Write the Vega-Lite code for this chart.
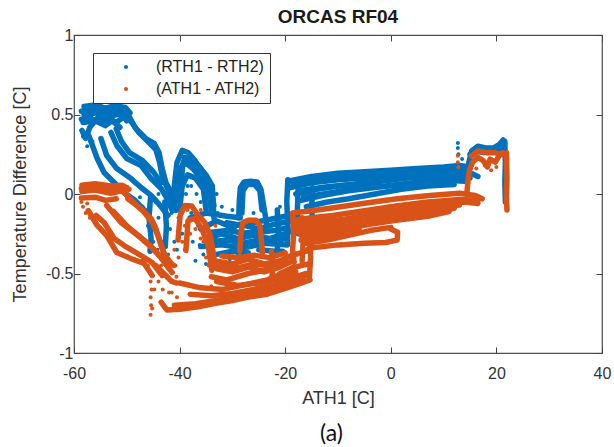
{
"$schema":"https://vega.github.io/schema/vega-lite/v6.json",
"width":528,"height":318,
"autosize":{"type":"none"},
"padding":{"left":74,"top":35,"right":12,"bottom":94},
"background":"white",
"title":{"text":"ORCAS RF04","font":"Liberation Sans","fontSize":19,"fontWeight":"bold","color":"#1a1a1a","offset":0,"anchor":"middle"},
"datasets":{
"tr":[
{"s":"R","t":"B1a","i":0,"x":-58.1,"y":0.55},{"s":"R","t":"B1a","i":1,"x":-56,"y":0.56},{"s":"R","t":"B1a","i":2,"x":-54.1,"y":0.54},{"s":"R","t":"B1a","i":3,"x":-52.2,"y":0.555},{"s":"R","t":"B1a","i":4,"x":-50.3,"y":0.545},{"s":"R","t":"B1a","i":5,"x":-49.4,"y":0.51},
{"s":"R","t":"B1b","i":0,"x":-58.1,"y":0.5},{"s":"R","t":"B1b","i":1,"x":-56,"y":0.51},{"s":"R","t":"B1b","i":2,"x":-53.2,"y":0.49},{"s":"R","t":"B1b","i":3,"x":-51,"y":0.505},{"s":"R","t":"B1b","i":4,"x":-50,"y":0.46},
{"s":"R","t":"B1c","i":0,"x":-58.3,"y":0.45},{"s":"R","t":"B1c","i":1,"x":-56,"y":0.46},{"s":"R","t":"B1c","i":2,"x":-54.1,"y":0.43},{"s":"R","t":"B1c","i":3,"x":-52.8,"y":0.46},{"s":"R","t":"B1c","i":4,"x":-51.3,"y":0.42},
{"s":"R","t":"B1d","i":0,"x":-58.5,"y":0.4},{"s":"R","t":"B1d","i":1,"x":-57.8,"y":0.35},{"s":"R","t":"B1d","i":2,"x":-57,"y":0.42},{"s":"R","t":"B1d","i":3,"x":-55.5,"y":0.48},{"s":"R","t":"B1d","i":4,"x":-54,"y":0.47},
{"s":"R","t":"B1e","i":0,"x":-58.6,"y":0.52},{"s":"R","t":"B1e","i":1,"x":-57,"y":0.53},{"s":"R","t":"B1e","i":2,"x":-55,"y":0.52},{"s":"R","t":"B1e","i":3,"x":-53,"y":0.52},{"s":"R","t":"B1e","i":4,"x":-51,"y":0.525},
{"s":"R","t":"B1f","i":0,"x":-58.6,"y":0.47},{"s":"R","t":"B1f","i":1,"x":-57,"y":0.48},{"s":"R","t":"B1f","i":2,"x":-55,"y":0.45},{"s":"R","t":"B1f","i":3,"x":-53.5,"y":0.48},{"s":"R","t":"B1f","i":4,"x":-52,"y":0.45},{"s":"R","t":"B1f","i":5,"x":-50.8,"y":0.48},
{"s":"R","t":"B2","i":0,"x":-50,"y":0.513},{"s":"R","t":"B2","i":1,"x":-48.3,"y":0.412},{"s":"R","t":"B2","i":2,"x":-46.4,"y":0.349},{"s":"R","t":"B2","i":3,"x":-44.8,"y":0.318},{"s":"R","t":"B2","i":4,"x":-43.9,"y":0.261},{"s":"R","t":"B2","i":5,"x":-43.3,"y":0.16},{"s":"R","t":"B2","i":6,"x":-42.6,"y":0.072},{"s":"R","t":"B2","i":7,"x":-41.6,"y":0.009},{"s":"R","t":"B2","i":8,"x":-41.1,"y":-0.028},{"s":"R","t":"B2","i":9,"x":-40.7,"y":-0.104},
{"s":"R","t":"B2b","i":0,"x":-49.5,"y":0.47},{"s":"R","t":"B2b","i":1,"x":-47.8,"y":0.39},{"s":"R","t":"B2b","i":2,"x":-46,"y":0.33},{"s":"R","t":"B2b","i":3,"x":-44.5,"y":0.28},{"s":"R","t":"B2b","i":4,"x":-43.8,"y":0.2},{"s":"R","t":"B2b","i":5,"x":-43.2,"y":0.1},{"s":"R","t":"B2b","i":6,"x":-42.2,"y":0.03},{"s":"R","t":"B2b","i":7,"x":-41.6,"y":-0.06},
{"s":"R","t":"B3","i":0,"x":-53,"y":0.387},{"s":"R","t":"B3","i":1,"x":-51.9,"y":0.305},{"s":"R","t":"B3","i":2,"x":-50,"y":0.223},{"s":"R","t":"B3","i":3,"x":-47.3,"y":0.179},{"s":"R","t":"B3","i":4,"x":-45.4,"y":0.097},{"s":"R","t":"B3","i":5,"x":-43.5,"y":0.035},{"s":"R","t":"B3","i":6,"x":-42.4,"y":-0.028},{"s":"R","t":"B3","i":7,"x":-41.4,"y":-0.104},
{"s":"R","t":"B3b","i":0,"x":-52,"y":0.41},{"s":"R","t":"B3b","i":1,"x":-51,"y":0.33},{"s":"R","t":"B3b","i":2,"x":-49.5,"y":0.26},{"s":"R","t":"B3b","i":3,"x":-47,"y":0.21},{"s":"R","t":"B3b","i":4,"x":-45,"y":0.14},{"s":"R","t":"B3b","i":5,"x":-43.5,"y":0.07},
{"s":"R","t":"B4","i":0,"x":-54.9,"y":0.349},{"s":"R","t":"B4","i":1,"x":-53.8,"y":0.242},{"s":"R","t":"B4","i":2,"x":-51.9,"y":0.16},{"s":"R","t":"B4","i":3,"x":-49.2,"y":0.097},{"s":"R","t":"B4","i":4,"x":-47.3,"y":0.041},{"s":"R","t":"B4","i":5,"x":-45.4,"y":-0.009},{"s":"R","t":"B4","i":6,"x":-43.7,"y":-0.072},{"s":"R","t":"B4","i":7,"x":-42.2,"y":-0.135},
{"s":"R","t":"B5","i":0,"x":-57.2,"y":0.368},{"s":"R","t":"B5","i":1,"x":-55.6,"y":0.223},{"s":"R","t":"B5","i":2,"x":-54.3,"y":0.135},{"s":"R","t":"B5","i":3,"x":-52.4,"y":0.072},{"s":"R","t":"B5","i":4,"x":-50.5,"y":0.009},{"s":"R","t":"B5","i":5,"x":-48.4,"y":-0.041},{"s":"R","t":"B5","i":6,"x":-46.6,"y":-0.104},
{"s":"R","t":"B6","i":0,"x":-45.5,"y":-0.02},{"s":"R","t":"B6","i":1,"x":-45.8,"y":-0.15},{"s":"R","t":"B6","i":2,"x":-45.4,"y":-0.28},{"s":"R","t":"B6","i":3,"x":-45.6,"y":-0.36},
{"s":"R","t":"B7","i":0,"x":-42.8,"y":-0.05},{"s":"R","t":"B7","i":1,"x":-42.5,"y":-0.2},{"s":"R","t":"B7","i":2,"x":-42.7,"y":-0.33},
{"s":"R","t":"B8a","i":0,"x":-41.1,"y":0.022},{"s":"R","t":"B8a","i":1,"x":-40.5,"y":0.198},{"s":"R","t":"B8a","i":2,"x":-39.5,"y":0.274},{"s":"R","t":"B8a","i":3,"x":-38.4,"y":0.261},{"s":"R","t":"B8a","i":4,"x":-37.1,"y":0.211},{"s":"R","t":"B8a","i":5,"x":-35.8,"y":0.148},{"s":"R","t":"B8a","i":6,"x":-34.8,"y":0.085},{"s":"R","t":"B8a","i":7,"x":-33.9,"y":0.009},{"s":"R","t":"B8a","i":8,"x":-33.5,"y":-0.072},
{"s":"R","t":"B8b","i":0,"x":-39.9,"y":-0.009},{"s":"R","t":"B8b","i":1,"x":-39.4,"y":0.179},{"s":"R","t":"B8b","i":2,"x":-38.2,"y":0.211},{"s":"R","t":"B8b","i":3,"x":-36.9,"y":0.148},{"s":"R","t":"B8b","i":4,"x":-35.4,"y":0.072},{"s":"R","t":"B8b","i":5,"x":-34.4,"y":-0.009},
{"s":"R","t":"B8c","i":0,"x":-40.2,"y":0.1},{"s":"R","t":"B8c","i":1,"x":-39,"y":0.23},{"s":"R","t":"B8c","i":2,"x":-38,"y":0.22},{"s":"R","t":"B8c","i":3,"x":-36.5,"y":0.18},{"s":"R","t":"B8c","i":4,"x":-35,"y":0.12},{"s":"R","t":"B8c","i":5,"x":-33.8,"y":0.05},{"s":"R","t":"B8c","i":6,"x":-33.5,"y":-0.15},
{"s":"R","t":"B8d","i":0,"x":-40.8,"y":-0.05},{"s":"R","t":"B8d","i":1,"x":-40,"y":0.15},{"s":"R","t":"B8d","i":2,"x":-39,"y":0.2},{"s":"R","t":"B8d","i":3,"x":-37.5,"y":0.16},{"s":"R","t":"B8d","i":4,"x":-36,"y":0.1},{"s":"R","t":"B8d","i":5,"x":-34.6,"y":0.03},{"s":"R","t":"B8d","i":6,"x":-34,"y":-0.1},
{"s":"R","t":"B8e","i":0,"x":-40,"y":-0.1},{"s":"R","t":"B8e","i":1,"x":-39.5,"y":0.05},{"s":"R","t":"B8e","i":2,"x":-38.5,"y":0.12},{"s":"R","t":"B8e","i":3,"x":-37,"y":0.1},{"s":"R","t":"B8e","i":4,"x":-35.5,"y":0.03},{"s":"R","t":"B8e","i":5,"x":-35,"y":-0.1},
{"s":"R","t":"B9a","i":0,"x":-36,"y":-0.22},{"s":"R","t":"B9a","i":1,"x":-33,"y":-0.17},{"s":"R","t":"B9a","i":2,"x":-30,"y":-0.21},{"s":"R","t":"B9a","i":3,"x":-28.6,"y":-0.19},{"s":"R","t":"B9a","i":4,"x":-25,"y":-0.22},{"s":"R","t":"B9a","i":5,"x":-22,"y":-0.19},{"s":"R","t":"B9a","i":6,"x":-19,"y":-0.17},
{"s":"R","t":"B9b","i":0,"x":-35,"y":-0.28},{"s":"R","t":"B9b","i":1,"x":-32,"y":-0.25},{"s":"R","t":"B9b","i":2,"x":-29,"y":-0.28},{"s":"R","t":"B9b","i":3,"x":-26,"y":-0.26},{"s":"R","t":"B9b","i":4,"x":-23,"y":-0.28},{"s":"R","t":"B9b","i":5,"x":-20,"y":-0.25},{"s":"R","t":"B9b","i":6,"x":-18,"y":-0.22},
{"s":"R","t":"B9c","i":0,"x":-36,"y":-0.33},{"s":"R","t":"B9c","i":1,"x":-32,"y":-0.32},{"s":"R","t":"B9c","i":2,"x":-28,"y":-0.34},{"s":"R","t":"B9c","i":3,"x":-24,"y":-0.31},{"s":"R","t":"B9c","i":4,"x":-20,"y":-0.32},
{"s":"R","t":"B9d","i":0,"x":-38,"y":-0.15},{"s":"R","t":"B9d","i":1,"x":-35,"y":-0.12},{"s":"R","t":"B9d","i":2,"x":-31,"y":-0.14},{"s":"R","t":"B9d","i":3,"x":-28.5,"y":-0.15},
{"s":"R","t":"B9e","i":0,"x":-33,"y":-0.38},{"s":"R","t":"B9e","i":1,"x":-30,"y":-0.36},{"s":"R","t":"B9e","i":2,"x":-27,"y":-0.37},
{"s":"R","t":"B9f","i":0,"x":-34,"y":-0.24},{"s":"R","t":"B9f","i":1,"x":-31,"y":-0.23},{"s":"R","t":"B9f","i":2,"x":-28,"y":-0.245},{"s":"R","t":"B9f","i":3,"x":-25,"y":-0.24},{"s":"R","t":"B9f","i":4,"x":-22,"y":-0.23},{"s":"R","t":"B9f","i":5,"x":-19.5,"y":-0.21},
{"s":"R","t":"B9g","i":0,"x":-34,"y":-0.3},{"s":"R","t":"B9g","i":1,"x":-31,"y":-0.29},{"s":"R","t":"B9g","i":2,"x":-28,"y":-0.31},{"s":"R","t":"B9g","i":3,"x":-25,"y":-0.29},{"s":"R","t":"B9g","i":4,"x":-22,"y":-0.3},{"s":"R","t":"B9g","i":5,"x":-20,"y":-0.28},
{"s":"R","t":"B9h","i":0,"x":-31,"y":-0.18},{"s":"R","t":"B9h","i":1,"x":-28,"y":-0.2},{"s":"R","t":"B9h","i":2,"x":-26,"y":-0.18},{"s":"R","t":"B9h","i":3,"x":-23,"y":-0.16},{"s":"R","t":"B9h","i":4,"x":-20,"y":-0.14},
{"s":"R","t":"B9i","i":0,"x":-25,"y":-0.35},{"s":"R","t":"B9i","i":1,"x":-22,"y":-0.36},{"s":"R","t":"B9i","i":2,"x":-20.5,"y":-0.36},
{"s":"R","t":"B10","i":0,"x":-28.8,"y":-0.15},{"s":"R","t":"B10","i":1,"x":-28.7,"y":-0.05},{"s":"R","t":"B10","i":2,"x":-28.5,"y":0.04},{"s":"R","t":"B10","i":3,"x":-27.8,"y":0.075},{"s":"R","t":"B10","i":4,"x":-26.5,"y":0.08},{"s":"R","t":"B10","i":5,"x":-25.3,"y":0.075},{"s":"R","t":"B10","i":6,"x":-24.6,"y":0.03},{"s":"R","t":"B10","i":7,"x":-24.2,"y":-0.05},{"s":"R","t":"B10","i":8,"x":-23.8,"y":-0.13},{"s":"R","t":"B10","i":9,"x":-23.5,"y":-0.2},
{"s":"R","t":"B10b","i":0,"x":-28.2,"y":-0.12},{"s":"R","t":"B10b","i":1,"x":-28,"y":0.02},{"s":"R","t":"B10b","i":2,"x":-27.2,"y":0.06},{"s":"R","t":"B10b","i":3,"x":-25.8,"y":0.06},{"s":"R","t":"B10b","i":4,"x":-24.8,"y":0.02},{"s":"R","t":"B10b","i":5,"x":-24.4,"y":-0.1},
{"s":"R","t":"B11a","i":0,"x":-19.5,"y":0.08},{"s":"R","t":"B11a","i":1,"x":-15,"y":0.11},{"s":"R","t":"B11a","i":2,"x":-10,"y":0.13},{"s":"R","t":"B11a","i":3,"x":-5,"y":0.14},{"s":"R","t":"B11a","i":4,"x":0,"y":0.15},{"s":"R","t":"B11a","i":5,"x":5,"y":0.16},{"s":"R","t":"B11a","i":6,"x":10,"y":0.17},{"s":"R","t":"B11a","i":7,"x":13,"y":0.18},{"s":"R","t":"B11a","i":8,"x":15,"y":0.17},
{"s":"R","t":"B11b","i":0,"x":-19,"y":0.04},{"s":"R","t":"B11b","i":1,"x":-15,"y":0.07},{"s":"R","t":"B11b","i":2,"x":-10,"y":0.09},{"s":"R","t":"B11b","i":3,"x":-5,"y":0.1},{"s":"R","t":"B11b","i":4,"x":0,"y":0.12},{"s":"R","t":"B11b","i":5,"x":5,"y":0.13},{"s":"R","t":"B11b","i":6,"x":10,"y":0.15},{"s":"R","t":"B11b","i":7,"x":14,"y":0.15},{"s":"R","t":"B11b","i":8,"x":16.5,"y":0.11},
{"s":"R","t":"B11c","i":0,"x":-18,"y":0},{"s":"R","t":"B11c","i":1,"x":-14,"y":0.03},{"s":"R","t":"B11c","i":2,"x":-10,"y":0.05},{"s":"R","t":"B11c","i":3,"x":-5,"y":0.07},{"s":"R","t":"B11c","i":4,"x":0,"y":0.09},{"s":"R","t":"B11c","i":5,"x":5,"y":0.11},{"s":"R","t":"B11c","i":6,"x":10,"y":0.12},{"s":"R","t":"B11c","i":7,"x":14,"y":0.13},
{"s":"R","t":"B11d","i":0,"x":-17,"y":-0.04},{"s":"R","t":"B11d","i":1,"x":-13,"y":-0.01},{"s":"R","t":"B11d","i":2,"x":-8,"y":0.02},{"s":"R","t":"B11d","i":3,"x":-3,"y":0.04},{"s":"R","t":"B11d","i":4,"x":2,"y":0.06},{"s":"R","t":"B11d","i":5,"x":7,"y":0.08},{"s":"R","t":"B11d","i":6,"x":12,"y":0.09},{"s":"R","t":"B11d","i":7,"x":15,"y":0.1},
{"s":"R","t":"B11e","i":0,"x":-16,"y":-0.08},{"s":"R","t":"B11e","i":1,"x":-12,"y":-0.05},{"s":"R","t":"B11e","i":2,"x":-8,"y":-0.03},{"s":"R","t":"B11e","i":3,"x":-3,"y":0},{"s":"R","t":"B11e","i":4,"x":2,"y":0.03},{"s":"R","t":"B11e","i":5,"x":7,"y":0.05},{"s":"R","t":"B11e","i":6,"x":12,"y":0.06},
{"s":"R","t":"B11f","i":0,"x":-18.5,"y":0.06},{"s":"R","t":"B11f","i":1,"x":-13,"y":0.09},{"s":"R","t":"B11f","i":2,"x":-7,"y":0.115},{"s":"R","t":"B11f","i":3,"x":-2,"y":0.13},{"s":"R","t":"B11f","i":4,"x":3,"y":0.14},{"s":"R","t":"B11f","i":5,"x":8,"y":0.16},{"s":"R","t":"B11f","i":6,"x":12,"y":0.165},
{"s":"R","t":"B11g","i":0,"x":-17.5,"y":0.02},{"s":"R","t":"B11g","i":1,"x":-12,"y":0.045},{"s":"R","t":"B11g","i":2,"x":-7,"y":0.06},{"s":"R","t":"B11g","i":3,"x":-2,"y":0.08},{"s":"R","t":"B11g","i":4,"x":3,"y":0.1},{"s":"R","t":"B11g","i":5,"x":8,"y":0.11},{"s":"R","t":"B11g","i":6,"x":13,"y":0.11},
{"s":"R","t":"B11h","i":0,"x":-16.5,"y":-0.02},{"s":"R","t":"B11h","i":1,"x":-11,"y":0.01},{"s":"R","t":"B11h","i":2,"x":-6,"y":0.04},{"s":"R","t":"B11h","i":3,"x":-1,"y":0.05},{"s":"R","t":"B11h","i":4,"x":4,"y":0.07},{"s":"R","t":"B11h","i":5,"x":9,"y":0.09},{"s":"R","t":"B11h","i":6,"x":14,"y":0.08},
{"s":"R","t":"B12","i":0,"x":-19.5,"y":0.09},{"s":"R","t":"B12","i":1,"x":-19.7,"y":-0.05},{"s":"R","t":"B12","i":2,"x":-19.5,"y":-0.2},{"s":"R","t":"B12","i":3,"x":-19.6,"y":-0.32},
{"s":"R","t":"B13","i":0,"x":-17.5,"y":0.06},{"s":"R","t":"B13","i":1,"x":-17.7,"y":-0.1},{"s":"R","t":"B13","i":2,"x":-17.5,"y":-0.25},
{"s":"R","t":"B14","i":0,"x":-21.5,"y":-0.1},{"s":"R","t":"B14","i":1,"x":-21.3,"y":-0.25},{"s":"R","t":"B14","i":2,"x":-21.5,"y":-0.36},
{"s":"R","t":"B15","i":0,"x":-14.8,"y":0.04},{"s":"R","t":"B15","i":1,"x":-15,"y":-0.1},{"s":"R","t":"B15","i":2,"x":-14.7,"y":-0.2},
{"s":"R","t":"B16","i":0,"x":14.5,"y":0.12},{"s":"R","t":"B16","i":1,"x":14.8,"y":0.2},{"s":"R","t":"B16","i":2,"x":15.3,"y":0.27},{"s":"R","t":"B16","i":3,"x":16.5,"y":0.3},{"s":"R","t":"B16","i":4,"x":18,"y":0.29},{"s":"R","t":"B16","i":5,"x":19.5,"y":0.29},{"s":"R","t":"B16","i":6,"x":20.5,"y":0.31},{"s":"R","t":"B16","i":7,"x":21.3,"y":0.34},
{"s":"R","t":"B17","i":0,"x":15,"y":0.25},{"s":"R","t":"B17","i":1,"x":16,"y":0.27},{"s":"R","t":"B17","i":2,"x":17.5,"y":0.26},{"s":"R","t":"B17","i":3,"x":19,"y":0.27},{"s":"R","t":"B17","i":4,"x":20.5,"y":0.28},{"s":"R","t":"B17","i":5,"x":21.2,"y":0.3},
{"s":"R","t":"B18","i":0,"x":21.6,"y":0.33},{"s":"R","t":"B18","i":1,"x":21.7,"y":0.2},{"s":"R","t":"B18","i":2,"x":21.6,"y":0.08},{"s":"R","t":"B18","i":3,"x":21.7,"y":-0.05},
{"s":"A","t":"O1a","i":0,"x":-58.5,"y":0.055},{"s":"A","t":"O1a","i":1,"x":-56,"y":0.065},{"s":"A","t":"O1a","i":2,"x":-53,"y":0.05},{"s":"A","t":"O1a","i":3,"x":-50.8,"y":0.055},{"s":"A","t":"O1a","i":4,"x":-49.6,"y":0.03},
{"s":"A","t":"O1b","i":0,"x":-58.5,"y":0.015},{"s":"A","t":"O1b","i":1,"x":-56,"y":0.025},{"s":"A","t":"O1b","i":2,"x":-53,"y":0.005},{"s":"A","t":"O1b","i":3,"x":-51,"y":0.02},{"s":"A","t":"O1b","i":4,"x":-49.8,"y":-0.01},
{"s":"A","t":"O1c","i":0,"x":-58.6,"y":-0.025},{"s":"A","t":"O1c","i":1,"x":-56,"y":-0.02},{"s":"A","t":"O1c","i":2,"x":-54,"y":-0.04},{"s":"A","t":"O1c","i":3,"x":-52,"y":-0.03},
{"s":"A","t":"O1d","i":0,"x":-58.6,"y":0.035},{"s":"A","t":"O1d","i":1,"x":-55,"y":0.04},{"s":"A","t":"O1d","i":2,"x":-52,"y":0.03},{"s":"A","t":"O1d","i":3,"x":-50,"y":0.04},
{"s":"A","t":"O2","i":0,"x":-50.5,"y":0.009},{"s":"A","t":"O2","i":1,"x":-48.1,"y":-0.072},{"s":"A","t":"O2","i":2,"x":-45.4,"y":-0.154},{"s":"A","t":"O2","i":3,"x":-44.5,"y":-0.217},{"s":"A","t":"O2","i":4,"x":-43.5,"y":-0.324},{"s":"A","t":"O2","i":5,"x":-42.6,"y":-0.406},{"s":"A","t":"O2","i":6,"x":-41.1,"y":-0.45},
{"s":"A","t":"O2b","i":0,"x":-49.8,"y":-0.03},{"s":"A","t":"O2b","i":1,"x":-47,"y":-0.1},{"s":"A","t":"O2b","i":2,"x":-45,"y":-0.19},{"s":"A","t":"O2b","i":3,"x":-44,"y":-0.27},{"s":"A","t":"O2b","i":4,"x":-43,"y":-0.37},{"s":"A","t":"O2b","i":5,"x":-41.8,"y":-0.43},
{"s":"A","t":"O3","i":0,"x":-53.8,"y":-0.072},{"s":"A","t":"O3","i":1,"x":-51.1,"y":-0.179},{"s":"A","t":"O3","i":2,"x":-48.6,"y":-0.242},{"s":"A","t":"O3","i":3,"x":-46.2,"y":-0.305},{"s":"A","t":"O3","i":4,"x":-44.3,"y":-0.368},{"s":"A","t":"O3","i":5,"x":-42.8,"y":-0.431},{"s":"A","t":"O3","i":6,"x":-41.4,"y":-0.494},
{"s":"A","t":"O3b","i":0,"x":-52.5,"y":-0.11},{"s":"A","t":"O3b","i":1,"x":-50,"y":-0.2},{"s":"A","t":"O3b","i":2,"x":-47.5,"y":-0.27},{"s":"A","t":"O3b","i":3,"x":-45.2,"y":-0.34},{"s":"A","t":"O3b","i":4,"x":-43.5,"y":-0.4},{"s":"A","t":"O3b","i":5,"x":-42,"y":-0.47},
{"s":"A","t":"O4","i":0,"x":-55.8,"y":-0.135},{"s":"A","t":"O4","i":1,"x":-54.3,"y":-0.179},{"s":"A","t":"O4","i":2,"x":-52.4,"y":-0.28},{"s":"A","t":"O4","i":3,"x":-50.5,"y":-0.324},{"s":"A","t":"O4","i":4,"x":-47.3,"y":-0.387},{"s":"A","t":"O4","i":5,"x":-45.2,"y":-0.431},{"s":"A","t":"O4","i":6,"x":-43.3,"y":-0.513},
{"s":"A","t":"O5","i":0,"x":-57.3,"y":-0.104},{"s":"A","t":"O5","i":1,"x":-55.6,"y":-0.198},{"s":"A","t":"O5","i":2,"x":-53.8,"y":-0.261},{"s":"A","t":"O5","i":3,"x":-51.9,"y":-0.368},{"s":"A","t":"O5","i":4,"x":-49.2,"y":-0.406},{"s":"A","t":"O5","i":5,"x":-46.7,"y":-0.437},{"s":"A","t":"O5","i":6,"x":-45.2,"y":-0.513},
{"s":"A","t":"O7","i":0,"x":-44.5,"y":-0.45},{"s":"A","t":"O7","i":1,"x":-43,"y":-0.5},{"s":"A","t":"O7","i":2,"x":-41.5,"y":-0.55},{"s":"A","t":"O7","i":3,"x":-40.5,"y":-0.56},
{"s":"A","t":"O8","i":0,"x":-43.5,"y":-0.68},{"s":"A","t":"O8","i":1,"x":-42.4,"y":-0.73},{"s":"A","t":"O8","i":2,"x":-39.9,"y":-0.725},{"s":"A","t":"O8","i":3,"x":-36.5,"y":-0.71},{"s":"A","t":"O8","i":4,"x":-33.7,"y":-0.69},{"s":"A","t":"O8","i":5,"x":-30,"y":-0.67},{"s":"A","t":"O8","i":6,"x":-27.2,"y":-0.65},{"s":"A","t":"O8","i":7,"x":-23.4,"y":-0.63},{"s":"A","t":"O8","i":8,"x":-19.7,"y":-0.59},{"s":"A","t":"O8","i":9,"x":-17,"y":-0.56},{"s":"A","t":"O8","i":10,"x":-15.3,"y":-0.54},
{"s":"A","t":"O8b","i":0,"x":-41,"y":-0.7},{"s":"A","t":"O8b","i":1,"x":-37,"y":-0.69},{"s":"A","t":"O8b","i":2,"x":-33,"y":-0.67},{"s":"A","t":"O8b","i":3,"x":-29,"y":-0.645},{"s":"A","t":"O8b","i":4,"x":-25,"y":-0.62},{"s":"A","t":"O8b","i":5,"x":-21.5,"y":-0.59},{"s":"A","t":"O8b","i":6,"x":-18,"y":-0.55},{"s":"A","t":"O8b","i":7,"x":-15.5,"y":-0.5},
{"s":"A","t":"O9","i":0,"x":-40,"y":-0.56},{"s":"A","t":"O9","i":1,"x":-36,"y":-0.59},{"s":"A","t":"O9","i":2,"x":-31.8,"y":-0.6},{"s":"A","t":"O9","i":3,"x":-27.5,"y":-0.57},{"s":"A","t":"O9","i":4,"x":-23.4,"y":-0.54},{"s":"A","t":"O9","i":5,"x":-20.5,"y":-0.5},{"s":"A","t":"O9","i":6,"x":-18.5,"y":-0.46},
{"s":"A","t":"O9b","i":0,"x":-34,"y":-0.52},{"s":"A","t":"O9b","i":1,"x":-31,"y":-0.54},{"s":"A","t":"O9b","i":2,"x":-27,"y":-0.5},{"s":"A","t":"O9b","i":3,"x":-24,"y":-0.48},{"s":"A","t":"O9b","i":4,"x":-21,"y":-0.45},
{"s":"A","t":"O9c","i":0,"x":-33,"y":-0.44},{"s":"A","t":"O9c","i":1,"x":-29,"y":-0.465},{"s":"A","t":"O9c","i":2,"x":-26,"y":-0.44},{"s":"A","t":"O9c","i":3,"x":-22,"y":-0.455},{"s":"A","t":"O9c","i":4,"x":-19.5,"y":-0.43},
{"s":"A","t":"O9d","i":0,"x":-38,"y":-0.63},{"s":"A","t":"O9d","i":1,"x":-34,"y":-0.64},{"s":"A","t":"O9d","i":2,"x":-30,"y":-0.625},{"s":"A","t":"O9d","i":3,"x":-26,"y":-0.6},{"s":"A","t":"O9d","i":4,"x":-22,"y":-0.57},{"s":"A","t":"O9d","i":5,"x":-19,"y":-0.53},{"s":"A","t":"O9d","i":6,"x":-16,"y":-0.5},
{"s":"A","t":"O9e","i":0,"x":-33,"y":-0.55},{"s":"A","t":"O9e","i":1,"x":-29,"y":-0.575},{"s":"A","t":"O9e","i":2,"x":-25,"y":-0.56},{"s":"A","t":"O9e","i":3,"x":-21,"y":-0.53},{"s":"A","t":"O9e","i":4,"x":-18,"y":-0.49},
{"s":"A","t":"O10a","i":0,"x":-33.5,"y":-0.42},{"s":"A","t":"O10a","i":1,"x":-30,"y":-0.44},{"s":"A","t":"O10a","i":2,"x":-27,"y":-0.41},{"s":"A","t":"O10a","i":3,"x":-24,"y":-0.44},{"s":"A","t":"O10a","i":4,"x":-21,"y":-0.42},{"s":"A","t":"O10a","i":5,"x":-19,"y":-0.39},
{"s":"A","t":"O10b","i":0,"x":-33,"y":-0.47},{"s":"A","t":"O10b","i":1,"x":-30,"y":-0.49},{"s":"A","t":"O10b","i":2,"x":-27,"y":-0.46},{"s":"A","t":"O10b","i":3,"x":-24,"y":-0.49},{"s":"A","t":"O10b","i":4,"x":-21,"y":-0.46},{"s":"A","t":"O10b","i":5,"x":-18.5,"y":-0.42},
{"s":"A","t":"O10c","i":0,"x":-32,"y":-0.39},{"s":"A","t":"O10c","i":1,"x":-29,"y":-0.4},{"s":"A","t":"O10c","i":2,"x":-26,"y":-0.385},{"s":"A","t":"O10c","i":3,"x":-23,"y":-0.4},{"s":"A","t":"O10c","i":4,"x":-20,"y":-0.37},
{"s":"A","t":"O11a","i":0,"x":-40.3,"y":-0.29},{"s":"A","t":"O11a","i":1,"x":-39.9,"y":-0.135},{"s":"A","t":"O11a","i":2,"x":-39,"y":-0.072},{"s":"A","t":"O11a","i":3,"x":-37.7,"y":-0.075},{"s":"A","t":"O11a","i":4,"x":-36.5,"y":-0.135},{"s":"A","t":"O11a","i":5,"x":-35.2,"y":-0.18},{"s":"A","t":"O11a","i":6,"x":-34.2,"y":-0.26},{"s":"A","t":"O11a","i":7,"x":-33.7,"y":-0.355},{"s":"A","t":"O11a","i":8,"x":-33.3,"y":-0.45},
{"s":"A","t":"O11b","i":0,"x":-38.8,"y":-0.355},{"s":"A","t":"O11b","i":1,"x":-38.4,"y":-0.167},{"s":"A","t":"O11b","i":2,"x":-37.1,"y":-0.154},{"s":"A","t":"O11b","i":3,"x":-35.8,"y":-0.217},{"s":"A","t":"O11b","i":4,"x":-34.6,"y":-0.324},{"s":"A","t":"O11b","i":5,"x":-33.9,"y":-0.48},
{"s":"A","t":"O12","i":0,"x":-28.6,"y":-0.36},{"s":"A","t":"O12","i":1,"x":-28.4,"y":-0.25},{"s":"A","t":"O12","i":2,"x":-28,"y":-0.18},{"s":"A","t":"O12","i":3,"x":-27,"y":-0.165},{"s":"A","t":"O12","i":4,"x":-25.5,"y":-0.165},{"s":"A","t":"O12","i":5,"x":-24.8,"y":-0.2},{"s":"A","t":"O12","i":6,"x":-24.5,"y":-0.3},{"s":"A","t":"O12","i":7,"x":-24.3,"y":-0.37},
{"s":"A","t":"O13a","i":0,"x":-18.6,"y":-0.12},{"s":"A","t":"O13a","i":1,"x":-15,"y":-0.105},{"s":"A","t":"O13a","i":2,"x":-11.5,"y":-0.09},{"s":"A","t":"O13a","i":3,"x":-5.3,"y":-0.06},{"s":"A","t":"O13a","i":4,"x":1.2,"y":-0.03},{"s":"A","t":"O13a","i":5,"x":7.4,"y":-0.01},{"s":"A","t":"O13a","i":6,"x":13,"y":0.005},{"s":"A","t":"O13a","i":7,"x":16,"y":-0.01},{"s":"A","t":"O13a","i":8,"x":17.3,"y":-0.03},
{"s":"A","t":"O13b","i":0,"x":-18.5,"y":-0.165},{"s":"A","t":"O13b","i":1,"x":-15,"y":-0.15},{"s":"A","t":"O13b","i":2,"x":-11,"y":-0.135},{"s":"A","t":"O13b","i":3,"x":-5,"y":-0.105},{"s":"A","t":"O13b","i":4,"x":1,"y":-0.075},{"s":"A","t":"O13b","i":5,"x":7,"y":-0.05},{"s":"A","t":"O13b","i":6,"x":13,"y":-0.035},{"s":"A","t":"O13b","i":7,"x":16.5,"y":-0.04},
{"s":"A","t":"O13c","i":0,"x":-18,"y":-0.21},{"s":"A","t":"O13c","i":1,"x":-14,"y":-0.195},{"s":"A","t":"O13c","i":2,"x":-10,"y":-0.18},{"s":"A","t":"O13c","i":3,"x":-5,"y":-0.15},{"s":"A","t":"O13c","i":4,"x":1,"y":-0.12},{"s":"A","t":"O13c","i":5,"x":7,"y":-0.09},{"s":"A","t":"O13c","i":6,"x":13,"y":-0.07},
{"s":"A","t":"O13d","i":0,"x":-17,"y":-0.26},{"s":"A","t":"O13d","i":1,"x":-13,"y":-0.24},{"s":"A","t":"O13d","i":2,"x":-9,"y":-0.22},{"s":"A","t":"O13d","i":3,"x":-4,"y":-0.19},{"s":"A","t":"O13d","i":4,"x":1,"y":-0.165},{"s":"A","t":"O13d","i":5,"x":7,"y":-0.14},{"s":"A","t":"O13d","i":6,"x":11,"y":-0.11},
{"s":"A","t":"O13e","i":0,"x":-16,"y":-0.31},{"s":"A","t":"O13e","i":1,"x":-12,"y":-0.29},{"s":"A","t":"O13e","i":2,"x":-8,"y":-0.26},{"s":"A","t":"O13e","i":3,"x":-4,"y":-0.23},{"s":"A","t":"O13e","i":4,"x":0,"y":-0.21},
{"s":"A","t":"O13f","i":0,"x":-18,"y":-0.19},{"s":"A","t":"O13f","i":1,"x":-14,"y":-0.175},{"s":"A","t":"O13f","i":2,"x":-9,"y":-0.16},{"s":"A","t":"O13f","i":3,"x":-4,"y":-0.13},{"s":"A","t":"O13f","i":4,"x":2,"y":-0.1},{"s":"A","t":"O13f","i":5,"x":8,"y":-0.07},{"s":"A","t":"O13f","i":6,"x":14,"y":-0.05},{"s":"A","t":"O13f","i":7,"x":16.5,"y":-0.06},
{"s":"A","t":"O13g","i":0,"x":-17.5,"y":-0.24},{"s":"A","t":"O13g","i":1,"x":-13,"y":-0.22},{"s":"A","t":"O13g","i":2,"x":-8,"y":-0.2},{"s":"A","t":"O13g","i":3,"x":-3,"y":-0.17},{"s":"A","t":"O13g","i":4,"x":2,"y":-0.14},{"s":"A","t":"O13g","i":5,"x":8,"y":-0.115},{"s":"A","t":"O13g","i":6,"x":12,"y":-0.09},
{"s":"A","t":"O13h","i":0,"x":-17,"y":-0.29},{"s":"A","t":"O13h","i":1,"x":-14,"y":-0.27},{"s":"A","t":"O13h","i":2,"x":-10,"y":-0.25},{"s":"A","t":"O13h","i":3,"x":-6,"y":-0.22},
{"s":"A","t":"O14","i":0,"x":-18.6,"y":-0.13},{"s":"A","t":"O14","i":1,"x":-18.4,"y":-0.25},{"s":"A","t":"O14","i":2,"x":-18.6,"y":-0.35},{"s":"A","t":"O14","i":3,"x":-18.3,"y":-0.43},
{"s":"A","t":"O15","i":0,"x":-16.8,"y":-0.15},{"s":"A","t":"O15","i":1,"x":-16.6,"y":-0.3},{"s":"A","t":"O15","i":2,"x":-16.8,"y":-0.42},
{"s":"A","t":"O16","i":0,"x":-22.6,"y":-0.36},{"s":"A","t":"O16","i":1,"x":-22.3,"y":-0.45},{"s":"A","t":"O16","i":2,"x":-22.5,"y":-0.52},
{"s":"A","t":"O17","i":0,"x":-15.3,"y":-0.25},{"s":"A","t":"O17","i":1,"x":-15.2,"y":-0.4},{"s":"A","t":"O17","i":2,"x":-15.4,"y":-0.52},
{"s":"A","t":"O18","i":0,"x":-15.3,"y":-0.34},{"s":"A","t":"O18","i":1,"x":-10,"y":-0.32},{"s":"A","t":"O18","i":2,"x":-5,"y":-0.31},{"s":"A","t":"O18","i":3,"x":-1,"y":-0.305},{"s":"A","t":"O18","i":4,"x":1.2,"y":-0.29},{"s":"A","t":"O18","i":5,"x":1.3,"y":-0.24},{"s":"A","t":"O18","i":6,"x":0,"y":-0.22},
{"s":"A","t":"O19","i":0,"x":-20,"y":-0.4},{"s":"A","t":"O19","i":1,"x":-18,"y":-0.38},{"s":"A","t":"O19","i":2,"x":-16,"y":-0.36},{"s":"A","t":"O19","i":3,"x":-15.5,"y":-0.34},
{"s":"A","t":"O19b","i":0,"x":-21,"y":-0.5},{"s":"A","t":"O19b","i":1,"x":-19,"y":-0.47},{"s":"A","t":"O19b","i":2,"x":-17,"y":-0.45},{"s":"A","t":"O19b","i":3,"x":-15.5,"y":-0.44},
{"s":"A","t":"O20","i":0,"x":14.4,"y":0},{"s":"A","t":"O20","i":1,"x":14.6,"y":0.08},{"s":"A","t":"O20","i":2,"x":14.9,"y":0.15},{"s":"A","t":"O20","i":3,"x":15.5,"y":0.2},{"s":"A","t":"O20","i":4,"x":16.5,"y":0.23},{"s":"A","t":"O20","i":5,"x":17.5,"y":0.21},{"s":"A","t":"O20","i":6,"x":18.3,"y":0.17},{"s":"A","t":"O20","i":7,"x":18.8,"y":0.22},{"s":"A","t":"O20","i":8,"x":19.8,"y":0.2},{"s":"A","t":"O20","i":9,"x":20.5,"y":0.24},{"s":"A","t":"O20","i":10,"x":21.2,"y":0.26},
{"s":"A","t":"O21","i":0,"x":15.3,"y":0.24},{"s":"A","t":"O21","i":1,"x":16.5,"y":0.27},{"s":"A","t":"O21","i":2,"x":18,"y":0.26},{"s":"A","t":"O21","i":3,"x":19.5,"y":0.26},{"s":"A","t":"O21","i":4,"x":21,"y":0.25},
{"s":"A","t":"O22","i":0,"x":21.9,"y":0.26},{"s":"A","t":"O22","i":1,"x":22,"y":0.1},{"s":"A","t":"O22","i":2,"x":21.9,"y":-0.02},{"s":"A","t":"O22","i":3,"x":22,"y":-0.1}
],
"pt":[
{"s":"R","x":-46.5,"y":-0.1},{"s":"R","x":-46,"y":-0.2},{"s":"R","x":-45,"y":-0.3},{"s":"R","x":-44.8,"y":-0.22},{"s":"R","x":-44,"y":-0.15},{"s":"R","x":-43.2,"y":-0.3},{"s":"R","x":-42.2,"y":-0.38},{"s":"R","x":-41.8,"y":-0.22},{"s":"R","x":-41,"y":-0.3},{"s":"R","x":-40.2,"y":-0.15},{"s":"R","x":-39.5,"y":-0.25},{"s":"R","x":-39,"y":-0.35},{"s":"R","x":-38.2,"y":-0.08},{"s":"R","x":-37.5,"y":-0.3},{"s":"R","x":-37,"y":-0.42},{"s":"R","x":-36.5,"y":-0.2},{"s":"R","x":-36,"y":-0.05},{"s":"R","x":-35.5,"y":-0.38},{"s":"R","x":-35,"y":-0.44},{"s":"R","x":-34.5,"y":-0.12},{"s":"R","x":-34,"y":-0.4},{"s":"R","x":-38.8,"y":0},{"s":"R","x":-37.8,"y":0.05},{"s":"R","x":-36.8,"y":0},{"s":"R","x":-40,"y":0.05},{"s":"R","x":-47.5,"y":-0.02},{"s":"R","x":-44.5,"y":-0.05},{"s":"R","x":-32.5,"y":-0.42},{"s":"R","x":-31.5,"y":-0.4},{"s":"R","x":-30.5,"y":-0.41},{"s":"R","x":-29,"y":-0.39},{"s":"R","x":-32,"y":-0.08},{"s":"R","x":-30,"y":-0.1},{"s":"R","x":-26,"y":-0.12},{"s":"R","x":-21,"y":-0.08},{"s":"R","x":12.7,"y":0.32},{"s":"R","x":12.7,"y":0.29},{"s":"R","x":12.8,"y":0.25},{"s":"R","x":13.5,"y":0.22},{"s":"R","x":-58.3,"y":0.36},{"s":"R","x":-57.5,"y":0.3},{"s":"R","x":-56.5,"y":0.33},
{"s":"R","x":-46.8,"y":-0.3},{"s":"R","x":-44.2,"y":-0.35},{"s":"R","x":-41.5,"y":-0.12},{"s":"R","x":-40.5,"y":-0.35},{"s":"R","x":-38.5,"y":-0.2},{"s":"R","x":-37.8,"y":-0.12},{"s":"R","x":-36.2,"y":-0.32},{"s":"R","x":-35.2,"y":-0.22},{"s":"R","x":-34.2,"y":-0.3},{"s":"R","x":-33.2,"y":-0.28},{"s":"R","x":-39.8,"y":-0.05},{"s":"R","x":-33,"y":0},{"s":"R","x":-32.8,"y":-0.12},{"s":"R","x":-36,"y":0.08},{"s":"R","x":-38.5,"y":0.05},{"s":"R","x":-42,"y":0},{"s":"R","x":-43,"y":-0.08},{"s":"R","x":-44,"y":0},{"s":"R","x":-47,"y":-0.08},
{"s":"A","x":-45.4,"y":-0.5},{"s":"A","x":-45.5,"y":-0.55},{"s":"A","x":-45.3,"y":-0.6},{"s":"A","x":-45.5,"y":-0.65},{"s":"A","x":-45.4,"y":-0.7},{"s":"A","x":-45.5,"y":-0.76},{"s":"A","x":-45.2,"y":-0.72},{"s":"A","x":-44.8,"y":-0.6},{"s":"A","x":-39,"y":-0.2},{"s":"A","x":-38,"y":-0.25},{"s":"A","x":-36,"y":-0.28},{"s":"A","x":-35,"y":-0.4},{"s":"A","x":-34.5,"y":-0.45},{"s":"A","x":-40.8,"y":-0.45},{"s":"A","x":-41,"y":-0.35},{"s":"A","x":-40.6,"y":-0.52},{"s":"A","x":-34,"y":-0.58},{"s":"A","x":-42,"y":-0.62},{"s":"A","x":-43.2,"y":-0.6},{"s":"A","x":12.7,"y":0.2},{"s":"A","x":12.7,"y":0.24},{"s":"A","x":12.8,"y":0.17},{"s":"A","x":16.2,"y":0.16},{"s":"A","x":17.8,"y":0.18},{"s":"A","x":19,"y":0.15},{"s":"A","x":20,"y":0.17},{"s":"A","x":-57.5,"y":-0.06},{"s":"A","x":-58.3,"y":-0.08},{"s":"A","x":-57,"y":-0.15},
{"s":"A","x":-39.5,"y":-0.3},{"s":"A","x":-38.5,"y":-0.1},{"s":"A","x":-37,"y":-0.22},{"s":"A","x":-36,"y":-0.1},{"s":"A","x":-35.5,"y":-0.3},{"s":"A","x":-34,"y":-0.35},{"s":"A","x":-33.2,"y":-0.2},{"s":"A","x":-40.2,"y":-0.4},{"s":"A","x":-41.5,"y":-0.62},{"s":"A","x":-40.5,"y":-0.65},{"s":"A","x":-46,"y":-0.45},{"s":"A","x":-47,"y":-0.42},{"s":"A","x":-44,"y":-0.55},{"s":"A","x":-43.5,"y":-0.45},{"s":"A","x":-57.8,"y":-0.12},{"s":"A","x":-58.6,"y":-0.05}
]
},
"layer":[
{"data":{"name":"tr"},"transform":[{"filter":"datum.s === 'R'"}],
 "mark":{"type":"line","strokeWidth":5.5,"strokeCap":"round","strokeJoin":"round","color":"#0072BD"},
 "encoding":{
  "x":{"field":"x","type":"quantitative","scale":{"domain":[-60,40],"nice":false,"zero":false},"axis":{"orient":"bottom","values":[-60,-40,-20,0,20,40],"title":"ATH1 [C]","labelExpr":"'' + datum.value","labelFlush":false,"labelPadding":18,"titlePadding":8}},
  "y":{"field":"y","type":"quantitative","scale":{"domain":[-1,1],"nice":false,"zero":false},"axis":{"orient":"left","values":[-1,-0.5,0,0.5,1],"title":"Temperature Difference [C]","labelExpr":"'' + datum.value","labelFlush":false,"labelPadding":7,"titlePadding":16}},
  "detail":{"field":"t"},
  "order":{"field":"i","type":"quantitative"}}},
{"data":{"name":"pt"},"transform":[{"filter":"datum.s === 'R'"}],
 "mark":{"type":"point","filled":true,"size":16,"opacity":1},
 "encoding":{
  "x":{"field":"x","type":"quantitative","axis":{"orient":"bottom","labels":false,"ticks":false,"title":"(a)","titleFont":"Lato","titleFontSize":23,"titleColor":"#111111","titlePadding":69,"titleX":257}},
  "y":{"field":"y","type":"quantitative","axis":null},
  "color":{"field":"s","type":"nominal","scale":{"domain":["R","A"],"range":["#0072BD","#D95319"]},"legend":{"labelExpr":"datum.value === 'R' ? '(RTH1 - RTH2)' : '(ATH1 - ATH2)'"}}}},
{"data":{"name":"tr"},"transform":[{"filter":"datum.s === 'A'"}],
 "mark":{"type":"line","strokeWidth":5.5,"strokeCap":"round","strokeJoin":"round","color":"#D95319"},
 "encoding":{
  "x":{"field":"x","type":"quantitative","axis":{"orient":"top","values":[-60,-40,-20,0,20,40],"labels":false,"title":null}},
  "y":{"field":"y","type":"quantitative","axis":{"orient":"right","values":[-1,-0.5,0,0.5,1],"labels":false,"title":null}},
  "detail":{"field":"t"},
  "order":{"field":"i","type":"quantitative"}}},
{"data":{"name":"pt"},"transform":[{"filter":"datum.s === 'A'"}],
 "mark":{"type":"point","filled":true,"size":16,"opacity":1},
 "encoding":{
  "x":{"field":"x","type":"quantitative","axis":null},
  "y":{"field":"y","type":"quantitative","axis":null},
  "color":{"field":"s","type":"nominal","scale":{"domain":["R","A"],"range":["#0072BD","#D95319"]},"legend":{"labelExpr":"datum.value === 'R' ? '(RTH1 - RTH2)' : '(ATH1 - ATH2)'"}}}},
{"mark":{"type":"rule","color":"#333333","strokeWidth":1.5,"strokeDash":[10,6]},
 "encoding":{"y":{"datum":0,"type":"quantitative","axis":null}}}
],
"resolve":{"axis":{"x":"independent","y":"independent"}},
"config":{
 "view":{"stroke":"#4d4d4d","strokeWidth":1.2},
 "axis":{"domain":false,"grid":false,"labelFont":"Liberation Sans","labelFontSize":16,"labelColor":"#333333","titleFont":"Liberation Sans","titleFontSize":18,"titleFontWeight":"normal","titleColor":"#333333","tickColor":"#444444","tickSize":-6,"tickWidth":1,"labelPadding":10},
 "legend":{"orient":"none","legendX":19,"legendY":18,"title":null,"padding":6,"symbolOffset":19,"labelOffset":22,"strokeColor":"#333333","fillColor":"white","labelFont":"Liberation Sans","labelFontSize":16,"labelColor":"#222222","symbolSize":18,"symbolType":"circle","rowPadding":6,"cornerRadius":0}
}
}
